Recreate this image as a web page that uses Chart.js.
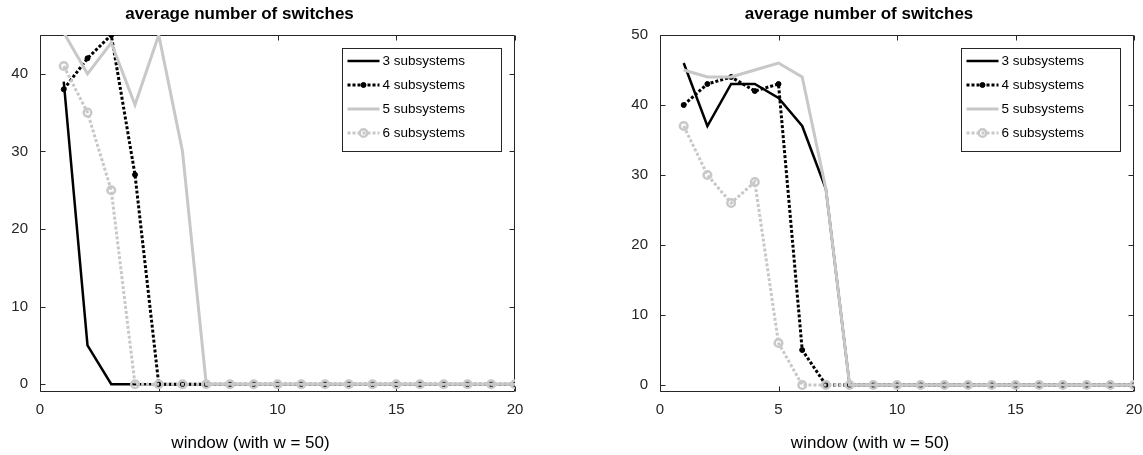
<!DOCTYPE html>
<html>
<head>
<meta charset="utf-8">
<script src="https://cdn.jsdelivr.net/npm/chart.js@4/dist/chart.umd.min.js"></script>
<style>
    body { margin: 0; background: #fff; }
    .panel { position: absolute; top: 0; }
</style>
</head>
<body>
<canvas id="leftChart" class="panel" style="left:0" width="571" height="455"></canvas>
<canvas id="rightChart" class="panel" style="left:571px" width="572" height="455"></canvas>
<script>
// window index on the x axis
const windowSizes = [1, 2, 3, 4, 5, 6, 7, 8, 9, 10, 11, 12, 13, 14, 15, 16, 17, 18, 19, 20];
const seriesNames = ['3 subsystems', '4 subsystems', '5 subsystems', '6 subsystems'];

// left panel
const leftThree = [39, 5, 0, 0, 0, 0, 0, 0, 0, 0, 0, 0, 0, 0, 0, 0, 0, 0, 0, 0];
const leftFour  = [38, 42, 45, 27, 0, 0, 0, 0, 0, 0, 0, 0, 0, 0, 0, 0, 0, 0, 0, 0];
const leftFive  = [45.3, 40, 44, 36, 45, 30, 0, 0, 0, 0, 0, 0, 0, 0, 0, 0, 0, 0, 0, 0];
const leftSix   = [41, 35, 25, 0, 0, 0, 0, 0, 0, 0, 0, 0, 0, 0, 0, 0, 0, 0, 0, 0];

// right panel
const rightThree = [46, 37, 43, 43, 41, 37, 28, 0, 0, 0, 0, 0, 0, 0, 0, 0, 0, 0, 0, 0];
const rightFour  = [40, 43, 44, 42, 43, 5, 0, 0, 0, 0, 0, 0, 0, 0, 0, 0, 0, 0, 0, 0];
const rightFive  = [45, 44, 44, 45, 46, 44, 28, 0, 0, 0, 0, 0, 0, 0, 0, 0, 0, 0, 0, 0];
const rightSix   = [37, 30, 26, 29, 6, 0, 0, 0, 0, 0, 0, 0, 0, 0, 0, 0, 0, 0, 0, 0];

const xTicks = [0, 5, 10, 15, 20];
const leftYTicks = [0, 10, 20, 30, 40];
const rightYTicks = [0, 10, 20, 30, 40, 50];

const FONT = "'Liberation Sans', Arial, Helvetica, sans-serif";
const AXIS_COLOR = '#262626';
const LIGHT = '#c8c8c8';

// box around the plot with inward ticks on all four sides
const framePlugin = {
    id: 'frame',
    beforeDatasetsDraw(chart) {
        const { ctx, chartArea: a, scales } = chart;
        const l = Math.round(a.left) + 0.5, r = Math.round(a.right) - 0.5;
        const t = Math.round(a.top) + 0.5, b = Math.round(a.bottom) - 0.5;
        const len = 5;
        ctx.save();
        ctx.strokeStyle = AXIS_COLOR;
        ctx.lineWidth = 1;
        ctx.beginPath();
        ctx.rect(l, t, r - l, b - t);
        scales.x.ticks.forEach(tk => {
            const px = Math.round(scales.x.getPixelForValue(tk.value)) + 0.5;
            ctx.moveTo(px, b); ctx.lineTo(px, b - len);
            ctx.moveTo(px, t); ctx.lineTo(px, t + len);
        });
        scales.y.ticks.forEach(tk => {
            const py = Math.round(scales.y.getPixelForValue(tk.value)) + 0.5;
            ctx.moveTo(l, py); ctx.lineTo(l + len, py);
            ctx.moveTo(r, py); ctx.lineTo(r - len, py);
        });
        ctx.stroke();
        ctx.restore();
    }
};

// title above the plot and the x axis caption below it
const captionPlugin = {
    id: 'caption',
    afterDraw(chart, args, opts) {
        const { ctx, chartArea: a } = chart;
        const mid = (a.left + a.right) / 2;
        ctx.save();
        ctx.fillStyle = '#000';
        ctx.textAlign = 'center';
        ctx.textBaseline = 'alphabetic';
        ctx.font = 'bold 17px ' + FONT;
        ctx.fillText(opts.title, mid + opts.titleShift, 19);
        ctx.font = '17px ' + FONT;
        ctx.fillText(opts.xLabel, mid + opts.labelShift, 448);
        ctx.restore();
    }
};

// legend box in the upper right corner of the plot
const boxLegendPlugin = {
    id: 'boxLegend',
    afterDatasetsDraw(chart) {
        const { ctx, chartArea: a } = chart;
        const w = 159, h = 103;
        const left = Math.round(a.right - 14 - w) + 0.5;
        const top = Math.round(a.top + 13) + 0.5;
        ctx.save();
        ctx.fillStyle = '#fff';
        ctx.fillRect(left, top, w, h);
        ctx.strokeStyle = AXIS_COLOR;
        ctx.lineWidth = 1;
        ctx.strokeRect(left, top, w, h);
        ctx.font = '13.5px ' + FONT;
        ctx.textBaseline = 'middle';
        chart.data.datasets.forEach((ds, i) => {
            const y = Math.round(top + 12 + i * 24.3);
            ctx.beginPath();
            ctx.strokeStyle = ds.borderColor;
            ctx.lineWidth = ds.borderWidth;
            ctx.setLineDash(ds.borderDash || []);
            ctx.moveTo(left + 5, y);
            ctx.lineTo(left + 37, y);
            ctx.stroke();
            ctx.setLineDash([]);
            if (ds.pointRadius > 0) {
                ctx.beginPath();
                ctx.arc(left + 21, y, ds.pointRadius, 0, Math.PI * 2);
                if (ds.pointBackgroundColor !== 'transparent') {
                    ctx.fillStyle = ds.pointBackgroundColor;
                    ctx.fill();
                }
                ctx.lineWidth = ds.pointBorderWidth;
                ctx.strokeStyle = ds.pointBorderColor;
                ctx.stroke();
            }
            ctx.fillStyle = '#000';
            ctx.fillText(ds.label, left + 40, y);
        });
        ctx.restore();
    }
};

function toPoints(values) {
    return windowSizes.map((w, i) => ({ x: w, y: values[i] }));
}

function makeDatasets(three, four, five, six) {
    return [
        { label: seriesNames[0], data: toPoints(three), borderColor: '#000', borderWidth: 2.5,
          pointRadius: 0, order: 4 },
        { label: seriesNames[1], data: toPoints(four), borderColor: '#000', borderWidth: 3,
          borderDash: [3, 2], pointRadius: 2.5, pointBackgroundColor: '#000',
          pointBorderColor: '#000', pointBorderWidth: 1, order: 3 },
        { label: seriesNames[2], data: toPoints(five), borderColor: LIGHT, borderWidth: 3,
          pointRadius: 0, order: 2 },
        { label: seriesNames[3], data: toPoints(six), borderColor: LIGHT, borderWidth: 3,
          borderDash: [3, 2], pointRadius: 3.8, pointBackgroundColor: 'transparent',
          pointBorderColor: LIGHT, pointBorderWidth: 2.5, order: 1 }
    ];
}

function makeChart(canvasId, datasets, yMax, yTicks, axisWidth, rightPad) {
    const tickFont = { family: FONT, size: 15 };
    return new Chart(document.getElementById(canvasId), {
        type: 'line',
        data: { datasets: datasets },
        options: {
            responsive: false,
            animation: false,
            devicePixelRatio: 1,
            layout: { padding: { top: 35, right: rightPad, left: 0, bottom: 0 } },
            elements: { line: { tension: 0, borderCapStyle: 'butt' }, point: { hitRadius: 0 } },
            scales: {
                x: {
                    type: 'linear',
                    min: 0,
                    max: 20,
                    grid: { display: false, drawTicks: false },
                    border: { display: false },
                    ticks: { font: tickFont, color: AXIS_COLOR, padding: 9, maxRotation: 0 },
                    afterBuildTicks: s => { s.ticks = xTicks.map(v => ({ value: v })); },
                    afterFit: s => { s.height = 63; s.paddingLeft = 0; s.paddingRight = 0; }
                },
                y: {
                    type: 'linear',
                    min: -1,
                    max: yMax,
                    grid: { display: false, drawTicks: false },
                    border: { display: false },
                    ticks: { font: tickFont, color: AXIS_COLOR, padding: 12, labelOffset: 0 },
                    afterBuildTicks: s => { s.ticks = yTicks.map(v => ({ value: v })); },
                    afterFit: s => { s.width = axisWidth; s.paddingTop = 0; s.paddingBottom = 0; }
                }
            },
            plugins: {
                legend: { display: false },
                title: { display: false },
                tooltip: { enabled: false },
                caption: {
                    title: 'average number of switches',
                    xLabel: 'window (with w = 50)',
                    titleShift: -38,
                    labelShift: -27
                }
            }
        },
        plugins: [framePlugin, boxLegendPlugin, captionPlugin]
    });
}

makeChart('leftChart', makeDatasets(leftThree, leftFour, leftFive, leftSix), 45, leftYTicks, 40, 56);
makeChart('rightChart', makeDatasets(rightThree, rightFour, rightFive, rightSix), 50, rightYTicks, 89, 9);
</script>
</body>
</html>
